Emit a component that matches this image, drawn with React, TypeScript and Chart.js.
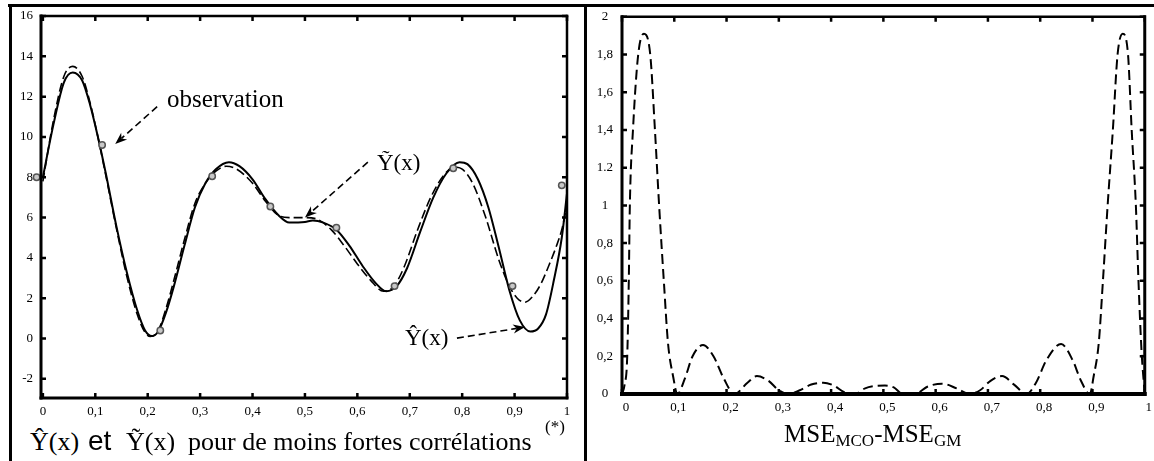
import React, { useEffect, useRef } from "react";
import { Chart, registerables } from "chart.js";

Chart.register(...registerables);

// ---------- data ----------
const xTickValues = [0, 0.1, 0.2, 0.3, 0.4, 0.5, 0.6, 0.7, 0.8, 0.9, 1];
const xTickLabels = ["0", "0,1", "0,2", "0,3", "0,4", "0,5", "0,6", "0,7", "0,8", "0,9", "1"];
const leftYTickValues = [-2, 0, 2, 4, 6, 8, 10, 12, 14, 16];
const leftYTickLabels = ["-2", "0", "2", "4", "6", "8", "10", "12", "14", "16"];
const rightYTickValues = [0, 0.2, 0.4, 0.6, 0.8, 1, 1.2, 1.4, 1.6, 1.8, 2];
const rightYTickLabels = ["0", "0,2", "0,4", "0,6", "0,8", "1", "1.2", "1,4", "1,6", "1,8", "2"];

// Ŷ(x) – solid curve
const hatX = [0, 0.02, 0.04, 0.057, 0.075, 0.09, 0.105, 0.12, 0.14, 0.16, 0.18, 0.195, 0.208, 0.22, 0.235, 0.25, 0.27, 0.29, 0.31, 0.33, 0.355, 0.375, 0.4, 0.425, 0.45, 0.47, 0.5, 0.515, 0.535, 0.56, 0.585, 0.61, 0.635, 0.655, 0.675, 0.695, 0.72, 0.745, 0.77, 0.795, 0.81, 0.83, 0.85, 0.87, 0.89, 0.91, 0.93, 0.945, 0.96, 0.975, 0.99, 1.0];
const hatY = [8.0, 10.6, 12.7, 13.2, 12.8, 11.6, 10.0, 8.2, 5.6, 3.3, 1.4, 0.4, 0.12, 0.35, 1.3, 2.6, 4.6, 6.5, 7.7, 8.4, 8.75, 8.55, 7.9, 6.9, 6.1, 5.75, 5.78, 5.85, 5.75, 5.4, 4.6, 3.6, 2.75, 2.35, 2.6, 3.5, 5.3, 7.0, 8.2, 8.75, 8.65, 7.9, 6.5, 4.5, 2.4, 0.9, 0.35, 0.5, 1.2, 2.9, 5.0, 7.2];

// Ỹ(x) – dashed curve
const tildeX = [0, 0.02, 0.04, 0.057, 0.075, 0.09, 0.105, 0.12, 0.14, 0.16, 0.18, 0.195, 0.205, 0.22, 0.235, 0.25, 0.27, 0.29, 0.31, 0.33, 0.35, 0.37, 0.4, 0.425, 0.45, 0.47, 0.5, 0.525, 0.55, 0.575, 0.6, 0.625, 0.65, 0.67, 0.69, 0.715, 0.74, 0.765, 0.785, 0.8, 0.82, 0.845, 0.87, 0.89, 0.905, 0.92, 0.935, 0.95, 0.965, 0.98, 0.99, 1.0];
const tildeY = [7.8, 10.8, 13.0, 13.5, 13.0, 11.7, 10.0, 8.1, 5.5, 3.1, 1.2, 0.3, 0.1, 0.4, 1.5, 2.9, 4.9, 6.7, 7.7, 8.3, 8.55, 8.4, 7.7, 6.8, 6.1, 6.0, 6.0, 5.9, 5.4, 4.6, 3.7, 2.9, 2.35, 2.6, 3.6, 5.4, 7.0, 8.1, 8.5, 8.4, 7.7, 6.0, 3.9, 2.6, 2.0, 1.8, 2.1, 2.7, 3.6, 4.6, 5.4, 6.6];

// observations
const obsX = [-0.012, 0.113, 0.224, 0.323, 0.434, 0.56, 0.671, 0.783, 0.896, 0.99];
const obsY = [8.0, 9.6, 0.4, 8.05, 6.55, 5.5, 2.6, 8.45, 2.6, 7.6];

// MSE_MCO - MSE_GM – dashed curve
const mseX = [0, 0.005, 0.01, 0.013, 0.015, 0.021, 0.031, 0.042, 0.054, 0.063, 0.071, 0.08, 0.088, 0.098, 0.106, 0.12, 0.135, 0.155, 0.175, 0.195, 0.215, 0.24, 0.258, 0.28, 0.3, 0.318, 0.34, 0.362, 0.385, 0.405, 0.425, 0.445, 0.465, 0.483, 0.503, 0.52, 0.537, 0.56, 0.585, 0.612, 0.64, 0.665, 0.685, 0.705, 0.727, 0.75, 0.774, 0.792, 0.812, 0.84, 0.862, 0.878, 0.895, 0.902, 0.912, 0.92, 0.929, 0.939, 0.948, 0.958, 0.968, 0.975, 0.983, 0.988, 0.994, 1.0];
const mseY = [0, 0.05, 0.2, 0.6, 1.0, 1.4, 1.8, 1.91, 1.8, 1.4, 1.0, 0.6, 0.27, 0.09, 0, 0.08, 0.2, 0.26, 0.2, 0.08, 0, 0.06, 0.095, 0.07, 0.02, 0, 0.02, 0.05, 0.06, 0.045, 0.01, 0, 0.03, 0.042, 0.045, 0.035, 0, 0, 0.04, 0.055, 0.03, 0, 0.02, 0.07, 0.095, 0.05, 0, 0.06, 0.18, 0.265, 0.18, 0.07, 0, 0.09, 0.27, 0.6, 1.0, 1.4, 1.8, 1.91, 1.8, 1.4, 1.0, 0.6, 0.22, 0];

// annotation arrows (data coordinates of the left chart)
const arrowStartX = [0.218, 0.62, 0.79];
const arrowStartY = [11.5, 8.75, 0.02];
const arrowEndX = [0.138, 0.5, 0.92];
const arrowEndY = [9.65, 6.0, 0.57];

// ---------- helpers ----------
const SERIF = "'Liberation Serif', 'Times New Roman', serif";

const pts = (xs: number[], ys: number[]) => xs.map((x, i) => ({ x, y: ys[i] }));

type FrameCfg = { left: number; bottom: number; top: number; right: number; tick: number; tickW: number };

const makeFramePlugin = (cfg: FrameCfg) => ({
  id: "frame",
  afterDatasetsDraw(chart: any) {
    const { ctx, chartArea: a, scales } = chart;
    const xs = scales.x;
    const ys = scales.y;
    ctx.save();
    ctx.strokeStyle = "#000";
    ctx.setLineDash([]);
    ctx.lineCap = "butt";
    ctx.lineWidth = cfg.tickW;
    const L = cfg.tick;
    ctx.beginPath();
    for (const t of xs.ticks) {
      const px = xs.getPixelForValue(t.value);
      ctx.moveTo(px, a.bottom);
      ctx.lineTo(px, a.bottom - L);
      ctx.moveTo(px, a.top);
      ctx.lineTo(px, a.top + L);
    }
    for (const t of ys.ticks) {
      const py = ys.getPixelForValue(t.value);
      ctx.moveTo(a.left, py);
      ctx.lineTo(a.left + L, py);
      ctx.moveTo(a.right, py);
      ctx.lineTo(a.right - L, py);
    }
    ctx.stroke();
    const edge = (w: number, x1: number, y1: number, x2: number, y2: number) => {
      ctx.lineWidth = w;
      ctx.beginPath();
      ctx.moveTo(x1, y1);
      ctx.lineTo(x2, y2);
      ctx.stroke();
    };
    ctx.lineCap = "square";
    edge(cfg.top, a.left, a.top, a.right, a.top);
    edge(cfg.right, a.right, a.top, a.right, a.bottom);
    edge(cfg.bottom, a.left, a.bottom, a.right, a.bottom);
    edge(cfg.left, a.left, a.top, a.left, a.bottom);
    ctx.restore();
  },
});

const arrowPlugin = {
  id: "arrows",
  afterDraw(chart: any) {
    const { ctx, scales } = chart;
    const xs = scales.x;
    const ys = scales.y;
    ctx.save();
    ctx.strokeStyle = "#000";
    ctx.fillStyle = "#000";
    for (let i = 0; i < arrowStartX.length; i++) {
      const x1 = xs.getPixelForValue(arrowStartX[i]);
      const y1 = ys.getPixelForValue(arrowStartY[i]);
      const x2 = xs.getPixelForValue(arrowEndX[i]);
      const y2 = ys.getPixelForValue(arrowEndY[i]);
      const ang = Math.atan2(y2 - y1, x2 - x1);
      const c = Math.cos(ang);
      const s = Math.sin(ang);
      const P = (dx: number, dy: number) => [x2 + dx * c - dy * s, y2 + dx * s + dy * c];
      const Lh = 12;
      const Wh = 4.5;
      const back = P(-Lh * 0.7, 0);
      ctx.setLineDash([7, 4]);
      ctx.lineWidth = 1.6;
      ctx.beginPath();
      ctx.moveTo(x1, y1);
      ctx.lineTo(back[0], back[1]);
      ctx.stroke();
      ctx.setLineDash([]);
      const p1 = P(-Lh, -Wh);
      const p2 = P(-Lh, Wh);
      ctx.beginPath();
      ctx.moveTo(x2, y2);
      ctx.lineTo(p1[0], p1[1]);
      ctx.lineTo(back[0], back[1]);
      ctx.lineTo(p2[0], p2[1]);
      ctx.closePath();
      ctx.fill();
    }
    ctx.restore();
  },
};

const tickFont = { family: SERIF, size: 13 };

function LeftChart() {
  const ref = useRef<HTMLCanvasElement | null>(null);
  useEffect(() => {
    if (!ref.current) return;
    const chart = new Chart(ref.current, {
      type: "line",
      data: {
        datasets: [
          {
            label: "obs",
            data: pts(obsX, obsY),
            showLine: false,
            pointRadius: 3.2,
            pointBorderWidth: 1.5,
            pointBorderColor: "#555",
            pointBackgroundColor: "#c8c8c8",
            clip: false,
          } as any,
          {
            label: "tilde",
            data: pts(tildeX, tildeY),
            borderColor: "#000",
            borderWidth: 1.6,
            borderDash: [9, 4],
            pointRadius: 0,
            cubicInterpolationMode: "monotone",
            fill: false,
          },
          {
            label: "hat",
            data: pts(hatX, hatY),
            borderColor: "#000",
            borderWidth: 2,
            pointRadius: 0,
            cubicInterpolationMode: "monotone",
            fill: false,
          },
        ],
      },
      options: {
        animation: false,
        responsive: false,
        events: [],
        layout: { padding: { left: 0, top: 16, right: 17, bottom: 0 }, autoPadding: false } as any,
        plugins: { legend: { display: false }, tooltip: { enabled: false } },
        scales: {
          x: {
            type: "linear",
            min: -0.0036,
            max: 1,
            grid: { display: false, drawTicks: false },
            border: { display: false },
            afterBuildTicks: (s: any) => {
              s.ticks = xTickValues.map((v) => ({ value: v }));
            },
            afterFit: (s: any) => {
              s.height = 27;
            },
            ticks: {
              autoSkip: false,
              maxRotation: 0,
              padding: 6,
              color: "#000",
              font: tickFont,
              callback: (v: any) => xTickLabels[xTickValues.indexOf(Number(v))] ?? "",
            },
          },
          y: {
            type: "linear",
            min: -2.95,
            max: 16,
            grid: { display: false, drawTicks: false },
            border: { display: false },
            afterBuildTicks: (s: any) => {
              s.ticks = leftYTickValues.map((v) => ({ value: v }));
            },
            afterFit: (s: any) => {
              s.width = 41;
            },
            ticks: {
              autoSkip: false,
              padding: 8,
              color: "#000",
              font: tickFont,
              crossAlign: "near",
              callback: (v: any) => leftYTickLabels[leftYTickValues.indexOf(Number(v))] ?? "",
            },
          },
        },
      },
      plugins: [makeFramePlugin({ left: 3, bottom: 3, top: 2.5, right: 2.5, tick: 5, tickW: 2.5 }), arrowPlugin],
    } as any);
    return () => chart.destroy();
  }, []);
  return <canvas ref={ref} width={584} height={425} style={{ position: "absolute", left: 0, top: 0, display: "block" }} />;
}

function RightChart() {
  const ref = useRef<HTMLCanvasElement | null>(null);
  useEffect(() => {
    if (!ref.current) return;
    const chart = new Chart(ref.current, {
      type: "line",
      data: {
        datasets: [
          {
            label: "mse",
            data: pts(mseX, mseY),
            borderColor: "#000",
            borderWidth: 2,
            borderDash: [10, 5],
            pointRadius: 0,
            cubicInterpolationMode: "monotone",
            fill: false,
          },
        ],
      },
      options: {
        animation: false,
        responsive: false,
        events: [],
        layout: { padding: { left: 0, top: 16, right: 9, bottom: 0 }, autoPadding: false } as any,
        plugins: { legend: { display: false }, tooltip: { enabled: false } },
        scales: {
          x: {
            type: "linear",
            min: 0,
            max: 1,
            grid: { display: false, drawTicks: false },
            border: { display: false },
            afterBuildTicks: (s: any) => {
              s.ticks = xTickValues.map((v) => ({ value: v }));
            },
            afterFit: (s: any) => {
              s.height = 31;
            },
            ticks: {
              autoSkip: false,
              maxRotation: 0,
              padding: 6,
              labelOffset: 4,
              color: "#000",
              font: tickFont,
              callback: (v: any) => xTickLabels[xTickValues.indexOf(Number(v))] ?? "",
            },
          },
          y: {
            type: "linear",
            min: 0,
            max: 2,
            grid: { display: false, drawTicks: false },
            border: { display: false },
            afterBuildTicks: (s: any) => {
              s.ticks = rightYTickValues.map((v) => ({ value: v }));
            },
            afterFit: (s: any) => {
              s.width = 35;
            },
            ticks: {
              autoSkip: false,
              padding: 9,
              color: "#000",
              font: tickFont,
              crossAlign: "center",
              callback: (v: any) => {
                const i = rightYTickValues.findIndex((t) => Math.abs(t - Number(v)) < 1e-9);
                return i >= 0 ? rightYTickLabels[i] : "";
              },
            },
          },
        },
      },
      plugins: [makeFramePlugin({ left: 3, bottom: 4, top: 2.5, right: 3, tick: 5, tickW: 2.5 })],
    } as any);
    return () => chart.destroy();
  }, []);
  return <canvas ref={ref} width={567} height={425} style={{ position: "absolute", left: 587, top: 0, display: "block" }} />;
}

const txt = (left: number, top: number, size: number, family = SERIF): React.CSSProperties => ({
  position: "absolute",
  left,
  top,
  fontFamily: family,
  fontSize: size,
  lineHeight: 1,
  whiteSpace: "pre",
  color: "#000",
});

export default function App() {
  return (
    <div style={{ position: "absolute", left: 0, top: 0, width: 1154, height: 461, background: "#fff", overflow: "hidden" }}>
      <LeftChart />
      <RightChart />
      {/* outer frame */}
      <div style={{ position: "absolute", left: 8, top: 4, width: 1146, height: 3, background: "#000" }} />
      <div style={{ position: "absolute", left: 9, top: 4, width: 3, height: 457, background: "#000" }} />
      <div style={{ position: "absolute", left: 584, top: 4, width: 3, height: 457, background: "#000" }} />

      {/* annotations */}
      <div style={txt(167, 86, 25)}>observation</div>
      <div style={txt(377, 151, 23)}>Ỹ(x)</div>
      <div style={txt(405, 326, 23)}>Ŷ(x)</div>

      {/* left caption */}
      <div style={txt(30, 429, 26)}>Ŷ(x)</div>
      <div style={txt(88, 427, 28, "'Liberation Sans', Arial, sans-serif")}>et</div>
      <div style={txt(126, 429, 26)}>Ỹ(x)</div>
      <div style={txt(188, 429, 26)}>pour de moins fortes corrélations</div>
      <div style={txt(545, 418, 17)}>(*)</div>

      {/* right caption */}
      <div style={{ ...txt(784, 421, 25) }}>
        MSE<span style={{ fontSize: 17, position: "relative", top: 4 }}>MCO</span>-MSE
        <span style={{ fontSize: 17, position: "relative", top: 4 }}>GM</span>
      </div>
    </div>
  );
}
